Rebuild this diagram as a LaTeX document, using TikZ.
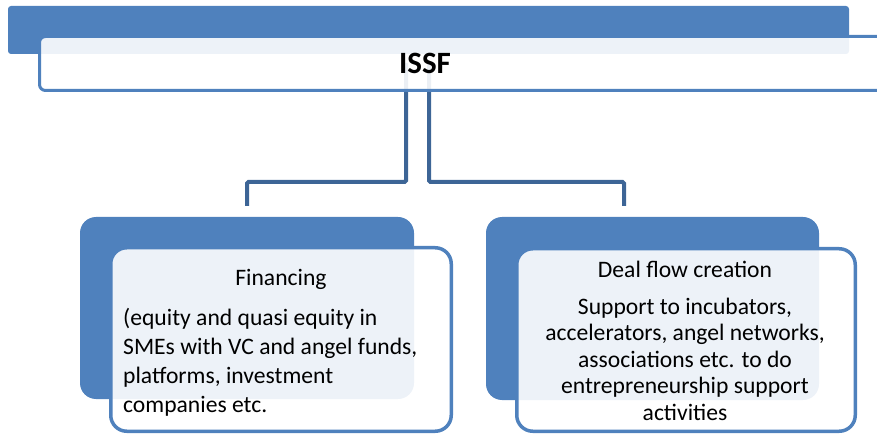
\documentclass[tikz,border=0pt]{standalone}
\usepackage{fontspec}
\setmainfont{Carlito}
\usepackage{tikz}
\definecolor{issfblue}{HTML}{4F81BD}
\definecolor{linkblue}{HTML}{3D6596}

\begin{document}
\begin{tikzpicture}[x=1pt, y=-1pt,
    backbox/.style={fill=issfblue},
    frontbox/.style={draw=issfblue, line width=3.5pt, fill=white, fill opacity=0.9,
      text opacity=1, rounded corners=16pt, inner sep=0pt},
    link/.style={draw=linkblue, line width=4pt, rounded corners=1.5pt},
    label/.style={inner sep=0pt, font=\fontsize{23.6}{29}\selectfont}]
  \useasboundingbox (0,0) rectangle (877,435);

  \coordinate (finin) at (247,206);
  \coordinate (dealin) at (624,206);
  \draw[link] (406,63) -- (406,182) -| (finin);
  \draw[link] (429,63) -- (429,182) -| (dealin);

  \fill[backbox, rounded corners=3pt] (8,6) rectangle (849,54);
  \node[frontbox, line width=3pt, rounded corners=6pt, minimum width=860pt, minimum height=54pt] (top) at (469.5,63.5) {};
  \node[inner sep=0pt, font=\bfseries\fontsize{31}{37}\selectfont] (issf) at (425,63) {ISSF};

  \fill[backbox, rounded corners=16pt] (80,217) rectangle (414,399);
  \node[frontbox, minimum width=340.5pt, minimum height=183.5pt] (fin) at (281,339.5) {};
  \node[label, anchor=base] (fintitle) at (281,286) {Financing};
  \node[label, anchor=base west, align=left] (finbody) at (123,412)
    {(equity and quasi equity in\\SMEs with VC and angel funds,\\platforms, investment\\companies etc.};

  \fill[backbox, rounded corners=16pt] (486,217) rectangle (819,400);
  \node[frontbox, minimum width=338.5pt, minimum height=182.5pt] (deal) at (686,340) {};
  \node[label, anchor=base] (dealtitle) at (685,278) {Deal flow creation};
  \node[label, anchor=base, align=center, font=\fontsize{23.6}{26.5}\selectfont] (dealbody) at (685,420)
    {Support to incubators,\\accelerators, angel networks,\\associations etc. to do\\entrepreneurship support\\activities};
\end{tikzpicture}
\end{document}
